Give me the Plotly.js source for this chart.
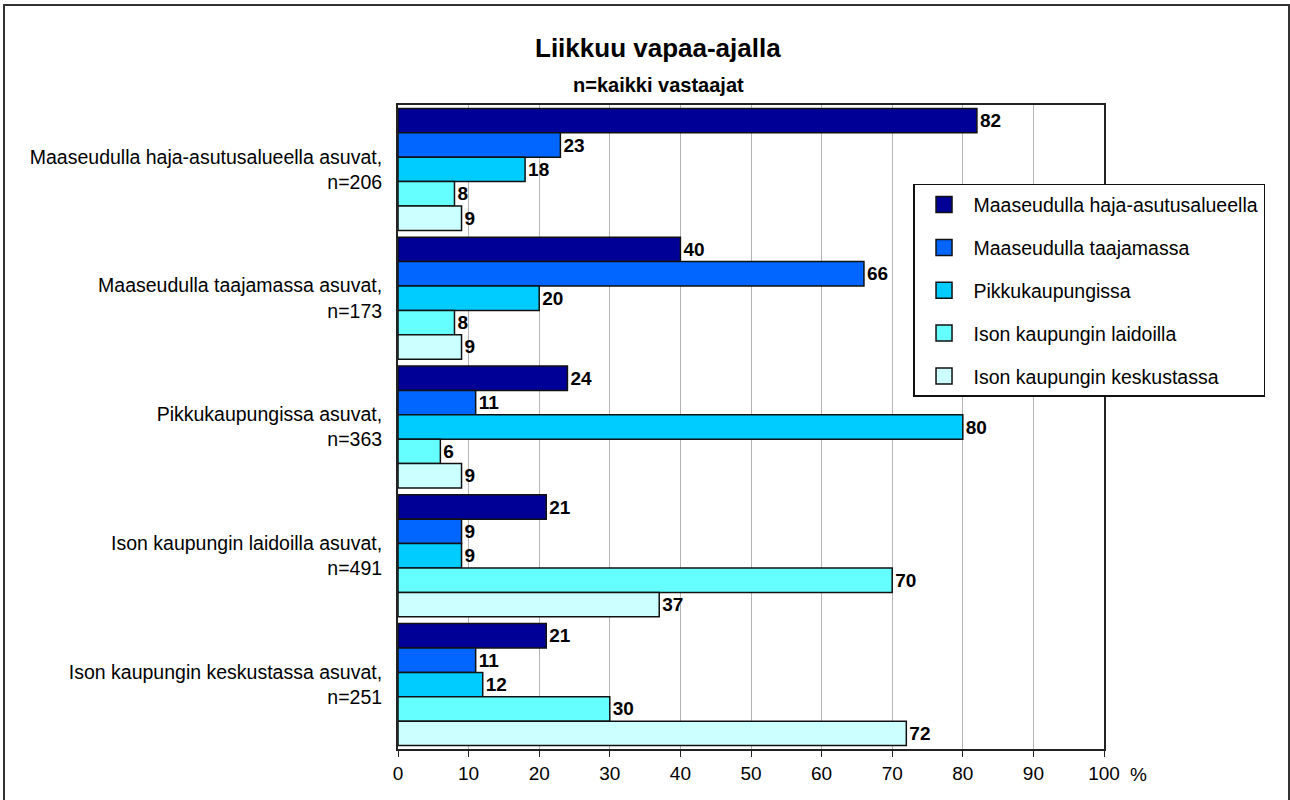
<!DOCTYPE html>
<html>
<head>
<meta charset="utf-8">
<script src="https://cdn.plot.ly/plotly-3.0.1.min.js"></script>
<style>
  html, body { margin: 0; padding: 0; background: #fff; }
  #chart { width: 1290px; height: 800px; }
  #frame { position: absolute; left: 3px; top: 4px; width: 1283px; height: 810px;
           border: 2px solid #333; pointer-events: none; }
</style>
</head>
<body>
<div id="chart"></div>
<div id="frame"></div>
<script>
const categories = [
  "Maaseudulla haja-asutusalueella asuvat,<br>n=206",
  "Maaseudulla taajamassa asuvat,<br>n=173",
  "Pikkukaupungissa asuvat,<br>n=363",
  "Ison kaupungin laidoilla asuvat,<br>n=491",
  "Ison kaupungin keskustassa asuvat,<br>n=251"
];
const seriesNames = [
  "Maaseudulla haja-asutusalueella",
  "Maaseudulla taajamassa",
  "Pikkukaupungissa",
  "Ison kaupungin laidoilla",
  "Ison kaupungin keskustassa"
];
const hajaAsutus = [82, 40, 24, 21, 21];
const taajama = [23, 66, 11, 9, 11];
const pikkukaupunki = [18, 20, 80, 9, 12];
const laidoilla = [8, 8, 6, 70, 30];
const keskusta = [9, 9, 9, 37, 72];
const seriesValues = [hajaAsutus, taajama, pikkukaupunki, laidoilla, keskusta];
const colors = ["#000096", "#0066FF", "#00CCFF", "#66FFFF", "#CCFFFF"];
const xTicks = [0, 10, 20, 30, 40, 50, 60, 70, 80, 90, 100];

const FONT = "Liberation Sans, Arial, Helvetica, sans-serif";

const traces = [];
seriesValues.forEach((vals, i) => {
  traces.push({
    type: "bar",
    orientation: "h",
    name: seriesNames[i],
    x: vals,
    y: categories,
    text: vals.map(String),
    textposition: "outside",
    cliponaxis: false,
    constraintext: "none",
    textfont: { family: FONT, size: 19, color: "#000", weight: "bold" },
    marker: { color: colors[i], line: { color: "#111", width: 1.5 } },
    showlegend: false,
    hoverinfo: "x+name"
  });
});
seriesValues.forEach((vals, i) => {
  traces.push({
    type: "scatter",
    mode: "markers",
    name: seriesNames[i],
    x: [null],
    y: [null],
    legendgroup: "g" + i,
    marker: { symbol: "square", size: 16, color: colors[i], line: { color: "#111", width: 1.5 } },
    showlegend: true,
    hoverinfo: "skip"
  });
});

const layout = {
  width: 1290,
  height: 800,
  margin: { l: 398, r: 186, t: 105, b: 51 },
  paper_bgcolor: "#fff",
  plot_bgcolor: "#fff",
  font: { family: FONT, size: 19, color: "#000" },
  barmode: "group",
  bargap: 0.053,
  bargroupgap: 0,
  showlegend: true,
  legend: {
    x: 0.7295, y: 0.8775, xanchor: "left", yanchor: "top",
    bgcolor: "#fff", bordercolor: "#111", borderwidth: 1.5,
    font: { family: FONT, size: 19.5, color: "#000" },
    tracegroupgap: 14.5,
    itemwidth: 49,
    itemsizing: "trace"
  },
  xaxis: {
    range: [0, 100],
    tickvals: xTicks,
    ticktext: xTicks.map(String),
    showgrid: true,
    gridcolor: "#b5b5b5",
    gridwidth: 1,
    zeroline: false,
    showline: true,
    mirror: true,
    linecolor: "#222",
    linewidth: 2,
    ticks: "outside",
    ticklen: 6,
    tickcolor: "#222",
    tickfont: { family: FONT, size: 19, color: "#000" },
    fixedrange: true
  },
  yaxis: {
    type: "category",
    autorange: "reversed",
    showgrid: false,
    zeroline: false,
    showline: true,
    mirror: true,
    linecolor: "#222",
    linewidth: 2,
    ticks: "",
    ticklabelstandoff: 10,
    tickfont: { family: FONT, size: 19.5, color: "#000" },
    fixedrange: true
  },
  annotations: [
    { text: "<b>Liikkuu vapaa-ajalla</b>", xref: "paper", yref: "paper",
      x: 0.368, y: 1.0 + (105 - 48) / 644, xanchor: "center", yanchor: "middle",
      showarrow: false, font: { family: FONT, size: 26, color: "#000" } },
    { text: "<b>n=kaikki vastaajat</b>", xref: "paper", yref: "paper",
      x: 0.369, y: 1.0 + (105 - 85) / 644, xanchor: "center", yanchor: "middle",
      showarrow: false, font: { family: FONT, size: 20, color: "#000" } },
    { text: "%", xref: "paper", yref: "paper",
      x: 1.034, y: -25 / 644, xanchor: "left", yanchor: "middle",
      showarrow: false, font: { family: FONT, size: 19, color: "#000" } }
  ]
};

Plotly.newPlot("chart", traces, layout, { displayModeBar: false, staticPlot: true });
</script>
</body>
</html>
